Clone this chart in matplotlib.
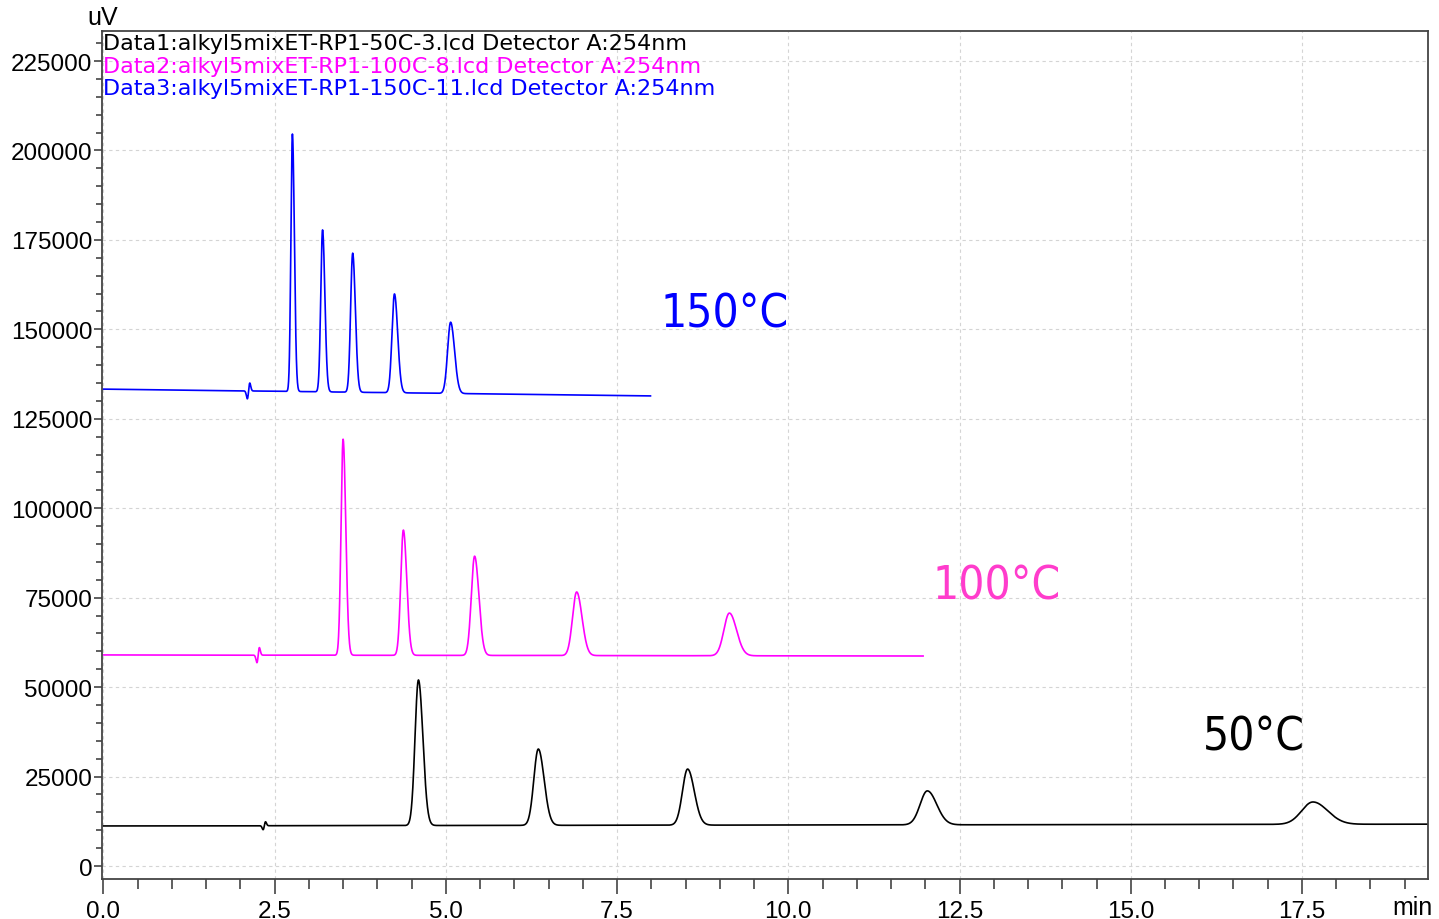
import numpy as np
import matplotlib.pyplot as plt
from matplotlib.ticker import MultipleLocator

# peak tables per run: retention time (min), apex height (uV), width (min)
rt_50 = [4.60, 6.35, 8.53, 12.03, 17.66]
apex_50 = [52000, 32700, 27100, 21000, 17900]
width_50 = [0.05, 0.065, 0.075, 0.105, 0.165]

rt_100 = [3.50, 4.38, 5.42, 6.91, 9.14]
apex_100 = [119300, 93900, 86600, 76600, 70700]
width_100 = [0.03, 0.038, 0.048, 0.06, 0.08]

rt_150 = [2.76, 3.20, 3.64, 4.25, 5.07]
apex_150 = [204600, 177800, 171300, 159900, 152000]
width_150 = [0.022, 0.026, 0.03, 0.036, 0.044]

# baseline at start/end of each run and run length
base_50 = (11200, 11700)
base_100 = (59000, 58700)
base_150 = (133300, 131400)
end_50, end_100, end_150 = 19.34, 11.97, 7.99

# injection disturbance: time, amplitude
inj_50 = (2.35, 1100)
inj_100 = (2.26, 2100)
inj_150 = (2.12, 2200)


def trace(t_end, base, rts, apexes, widths, inj, tail=1.3):
    t = np.arange(0.0, t_end, 0.002)
    y = base[0] + (base[1] - base[0]) * t / t_end
    for rt, h, w in zip(rts, apexes, widths):
        bl = base[0] + (base[1] - base[0]) * rt / t_end
        s = np.where(t < rt, w, w * tail)
        y = y + (h - bl) * np.exp(-0.5 * ((t - rt) / s) ** 2)
    u = (t - inj[0]) / 0.018
    y = y + inj[1] * 1.65 * u * np.exp(-0.5 * u ** 2)
    return t, y


fig = plt.figure(figsize=(14.39, 9.20), dpi=100)
ax = fig.add_axes([102 / 1439, 40 / 920, 1326 / 1439, 848 / 920])

for run, col in [((end_50, base_50, rt_50, apex_50, width_50, inj_50), 'black'),
                 ((end_100, base_100, rt_100, apex_100, width_100, inj_100), '#ff00ff'),
                 ((end_150, base_150, rt_150, apex_150, width_150, inj_150), '#0000ff')]:
    t, y = trace(*run)
    ax.plot(t, y, color=col, lw=1.2)

ax.set_xlim(-0.02, 19.34)
ax.set_ylim(-3630, 233400)
ax.xaxis.set_major_locator(MultipleLocator(2.5))
ax.xaxis.set_minor_locator(MultipleLocator(0.5))
ax.yaxis.set_major_locator(MultipleLocator(25000))
ax.yaxis.set_minor_locator(MultipleLocator(5000))
ax.xaxis.set_major_formatter(lambda v, p: f'{v:.1f}')
ax.yaxis.set_major_formatter(lambda v, p: f'{v:.0f}')

ax.grid(True, which='major', color='#d4d4d4', ls=(0, (3, 3)), lw=0.8)
for s in ax.spines.values():
    s.set_color('#444444')
    s.set_linewidth(1.3)
narrow = ['Liberation Sans Narrow', 'Liberation Sans']
ax.tick_params(axis='both', which='both', direction='out', color='#444444',
               labelsize=17.5, width=1.2)
ax.tick_params(axis='y', which='major', length=6, pad=1)
ax.tick_params(axis='y', which='minor', length=4)
ax.tick_params(axis='x', which='major', length=11, pad=4)
ax.tick_params(axis='x', which='minor', length=7)
for lab in ax.get_xticklabels() + ax.get_yticklabels():
    lab.set_family(narrow)

ft = dict(family='DejaVu Sans', fontsize=16, transform=ax.transAxes, va='top')
ax.text(0.001, 0.998, 'Data1:alkyl5mixET-RP1-50C-3.lcd Detector A:254nm', color='black', **ft)
ax.text(0.001, 0.971, 'Data2:alkyl5mixET-RP1-100C-8.lcd Detector A:254nm', color='#ff00ff', **ft)
ax.text(0.001, 0.944, 'Data3:alkyl5mixET-RP1-150C-11.lcd Detector A:254nm', color='#0000ff', **ft)

big = dict(fontsize=33, va='center', family='DejaVu Sans', fontstretch='condensed')
ax.text(8.13, 154300, '150°C', color='#0000ff', **big)
ax.text(12.10, 78300, '100°C', color='#ff3ccc', **big)
ax.text(16.06, 36000, '50°C', color='black', **big)

fig.text(103 / 1439, 1 - 18 / 920, 'uV', ha='center', va='center', fontsize=18, family=narrow)
fig.text(1412 / 1439, 1 - 908 / 920, 'min', ha='center', va='center', fontsize=18, family=narrow)

fig.savefig('out.png', dpi=100)
